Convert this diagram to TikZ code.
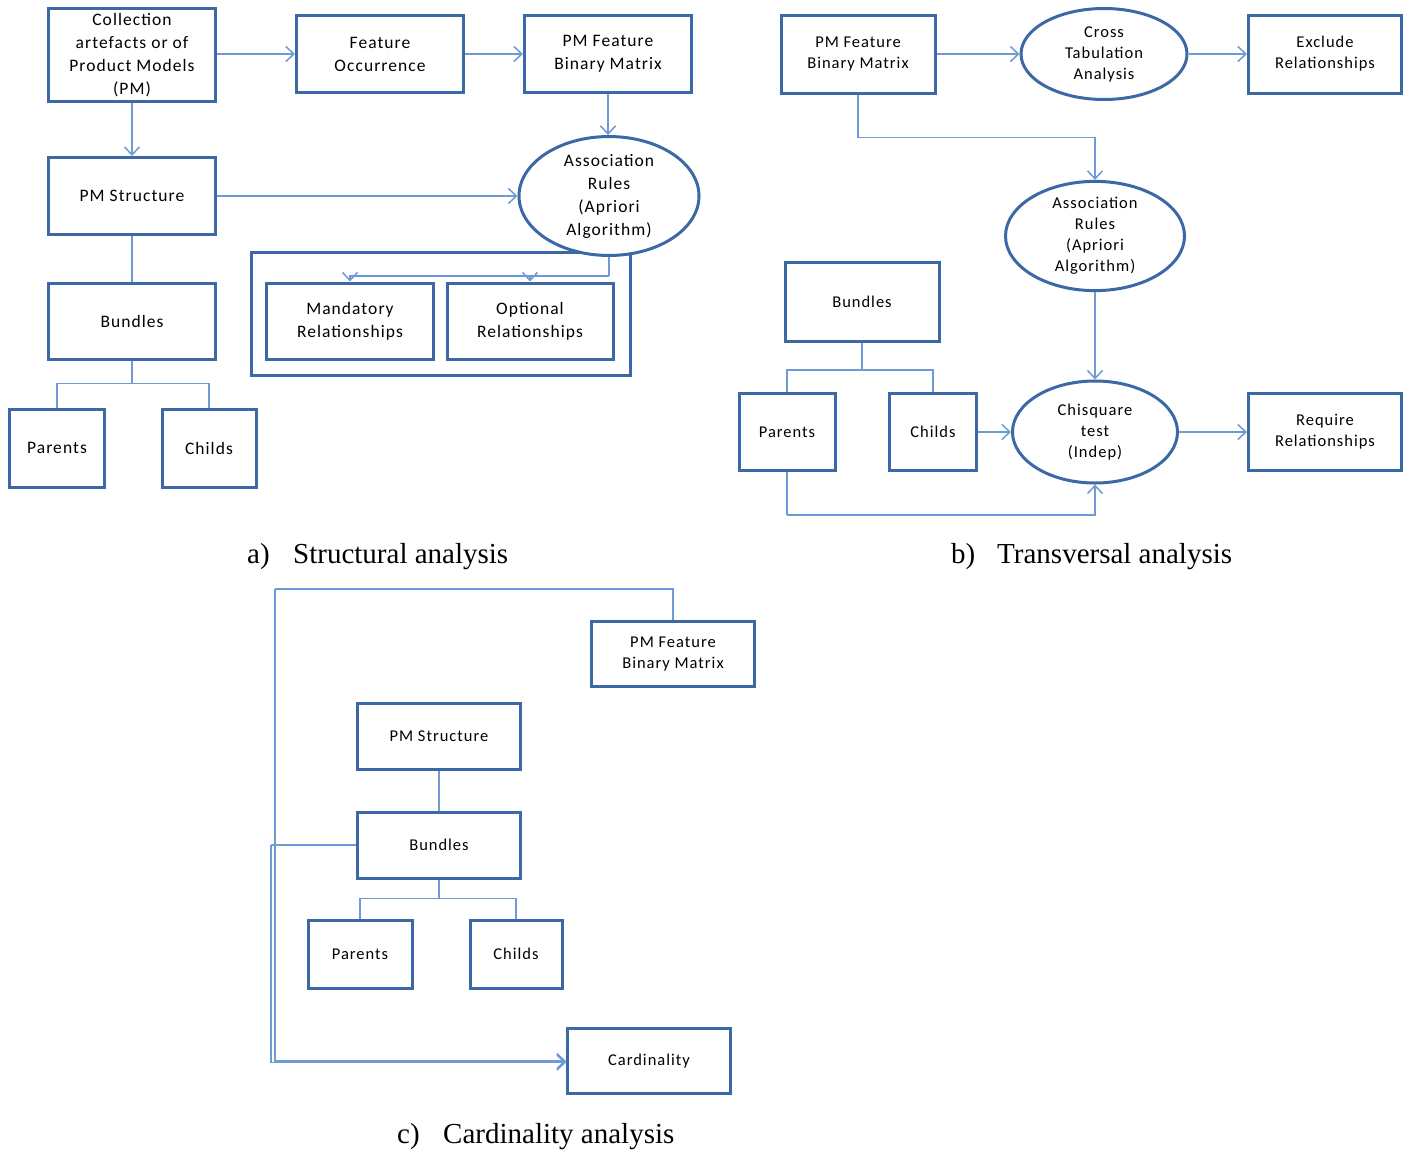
\documentclass[tikz,border=0pt]{standalone}
\usepackage{fontspec}
\setmainfont{Carlito}
\newfontfamily\boxfont[LetterSpace=6]{Carlito}
\newfontfamily\capfont{Liberation Serif}
\usetikzlibrary{shapes.geometric,arrows.meta}
\definecolor{boxc}{HTML}{3D68A6}
\definecolor{linec}{HTML}{6F9AD6}
\begin{document}
\begin{tikzpicture}[x=1pt,y=-1pt,
  boxa/.style={draw=boxc, line width=3pt, fill=white, align=center, inner sep=0pt,
    font=\boxfont\fontsize{17.5}{23}\selectfont},
  boxb/.style={boxa, font=\boxfont\fontsize{16.5}{21}\selectfont},
  ella/.style={boxa, ellipse},
  ellb/.style={boxb, ellipse},
  conn/.style={draw=linec, line width=1.4pt},
  arr/.style={conn, -{Straight Barb[length=8pt,width=15pt,line width=1.5pt]}},
  captext/.style={anchor=base west, inner sep=0pt, font=\capfont\fontsize{29}{34}\selectfont}]
\useasboundingbox (0,0) rectangle (1413,1149);
\fill[white] (0,0) rectangle (1413,1149);

% ---------- a) Structural analysis ----------
\node[boxa, minimum width=379pt, minimum height=123pt] (grp) at (441,314) {};
\node[boxa, minimum width=167pt, minimum height=93pt] (col) at (132,55) {Collection\\artefacts or of\\Product Models\\(PM)};
\node[boxa, minimum width=167pt, minimum height=77pt] (fo) at (380,54) {Feature\\Occurrence};
\node[boxa, minimum width=167pt, minimum height=77pt] (pma) at (608,54) {PM Feature\\Binary Matrix};
\node[boxa, minimum width=167pt, minimum height=77pt] (psa) at (132,196) {PM Structure};
\node[ella, minimum width=180pt, minimum height=97pt] (ea) at (609,196) {Association\\Rules\\(Apriori\\Algorithm)};
\node[boxa, minimum width=167pt, minimum height=76pt] (bua) at (132,321) {Bundles};
\node[boxa, minimum width=95pt, minimum height=78pt] (para) at (57,448) {Parents};
\node[boxa, minimum width=94pt, minimum height=78pt] (cha) at (209,448) {Childs};
\node[boxa, minimum width=167pt, minimum height=76pt] (mand) at (350,321) {Mandatory\\Relationships};
\node[boxa, minimum width=166pt, minimum height=76pt] (opt) at (530,321) {Optional\\Relationships};

\draw[arr] (col.east |- fo.west) -- (fo.west);
\draw[arr] (fo.east) -- (pma.west);
\draw[arr] (pma.south) -- (pma.south |- ea.north);
\draw[arr] (col.south) -- (psa.north);
\draw[arr] (psa.east) -- (ea.west);
\draw[conn] (psa.south) -- (bua.north);
\draw[conn] (bua.south) -- ++(0,23) coordinate (ta);
\draw[conn] (ta) -| (para.north);
\draw[conn] (ta) -| (cha.north);
\draw[conn] (ea.south) -- ++(0,19) coordinate (tm);
\draw[arr] (tm) -| (mand.north);
\draw[arr] (tm) -| (opt.north);

% ---------- b) Transversal analysis ----------
\node[boxb, minimum width=154pt, minimum height=78pt] (pmb) at (858,54) {PM Feature\\Binary Matrix};
\node[ellb, minimum width=166pt, minimum height=91pt] (ct) at (1104,54) {Cross\\Tabulation\\Analysis};
\node[boxb, minimum width=153pt, minimum height=78pt] (exc) at (1325,54) {Exclude\\Relationships};
\node[ellb, minimum width=179pt, minimum height=101pt] (eb) at (1095,236) {Association\\Rules\\(Apriori\\Algorithm)};
\node[boxb, minimum width=154pt, minimum height=79pt] (bub) at (862,302) {Bundles};
\node[boxb, minimum width=96pt, minimum height=77pt] (parb) at (787,432) {Parents};
\node[boxb, minimum width=87pt, minimum height=77pt] (chb) at (933,432) {Childs};
\node[ellb, minimum width=165pt, minimum height=102pt] (chi) at (1095,432) {Chisquare\\test\\(Indep)};
\node[boxb, minimum width=153pt, minimum height=77pt] (req) at (1325,432) {Require\\Relationships};

\draw[arr] (pmb.east) -- (ct.west);
\draw[arr] (ct.east) -- (exc.west);
\draw[conn] (pmb.south) -- ++(0,43) coordinate (tb);
\draw[arr] (tb) -| (eb.north);
\draw[arr] (eb.south) -- (chi.north);
\draw[conn] (bub.south) -- ++(0,27) coordinate (tbb);
\draw[conn] (tbb) -| (parb.north);
\draw[conn] (tbb) -| (chb.north);
\draw[arr] (chb.east) -- (chi.west);
\draw[arr] (chi.east) -- (req.west);
\draw[conn] (parb.south) -- ++(0,43) coordinate (tp);
\draw[arr] (tp) -| (chi.south);

% ---------- c) Cardinality analysis ----------
\node[boxb, minimum width=163pt, minimum height=65pt] (pmc) at (673,654) {PM Feature\\Binary Matrix};
\node[boxb, minimum width=163pt, minimum height=66pt] (psc) at (439,736) {PM Structure};
\node[boxb, minimum width=163pt, minimum height=66pt] (buc) at (439,845) {Bundles};
\node[boxb, minimum width=104pt, minimum height=68pt] (parc) at (360,954) {Parents};
\node[boxb, minimum width=92pt, minimum height=68pt] (chc) at (516,954) {Childs};
\node[boxb, minimum width=163pt, minimum height=65pt] (card) at (649,1061) {Cardinality};

\draw[conn] (psc.south) -- (buc.north);
\draw[conn] (buc.south) -- ++(0,19) coordinate (tc);
\draw[conn] (tc) -| (parc.north);
\draw[conn] (tc) -| (chc.north);
\coordinate (cTop) at (275,589);
\coordinate (cMid) at (271,845);
\draw[conn] (pmc.north) |- (cTop);
\draw[arr] (cTop) |- (card.west);
\draw[conn] (buc.west) -- (cMid);
\draw[arr] (cMid) |- ([yshift=-1.5pt]card.west);

% ---------- captions ----------
\node[captext] (capa) at (247,563) {\makebox[46pt][l]{a)}Structural analysis};
\node[captext] (capb) at (951,563) {\makebox[46pt][l]{b)}Transversal analysis};
\node[captext] (capc) at (397,1143) {\makebox[46pt][l]{c)}Cardinality analysis};
\end{tikzpicture}
\end{document}
